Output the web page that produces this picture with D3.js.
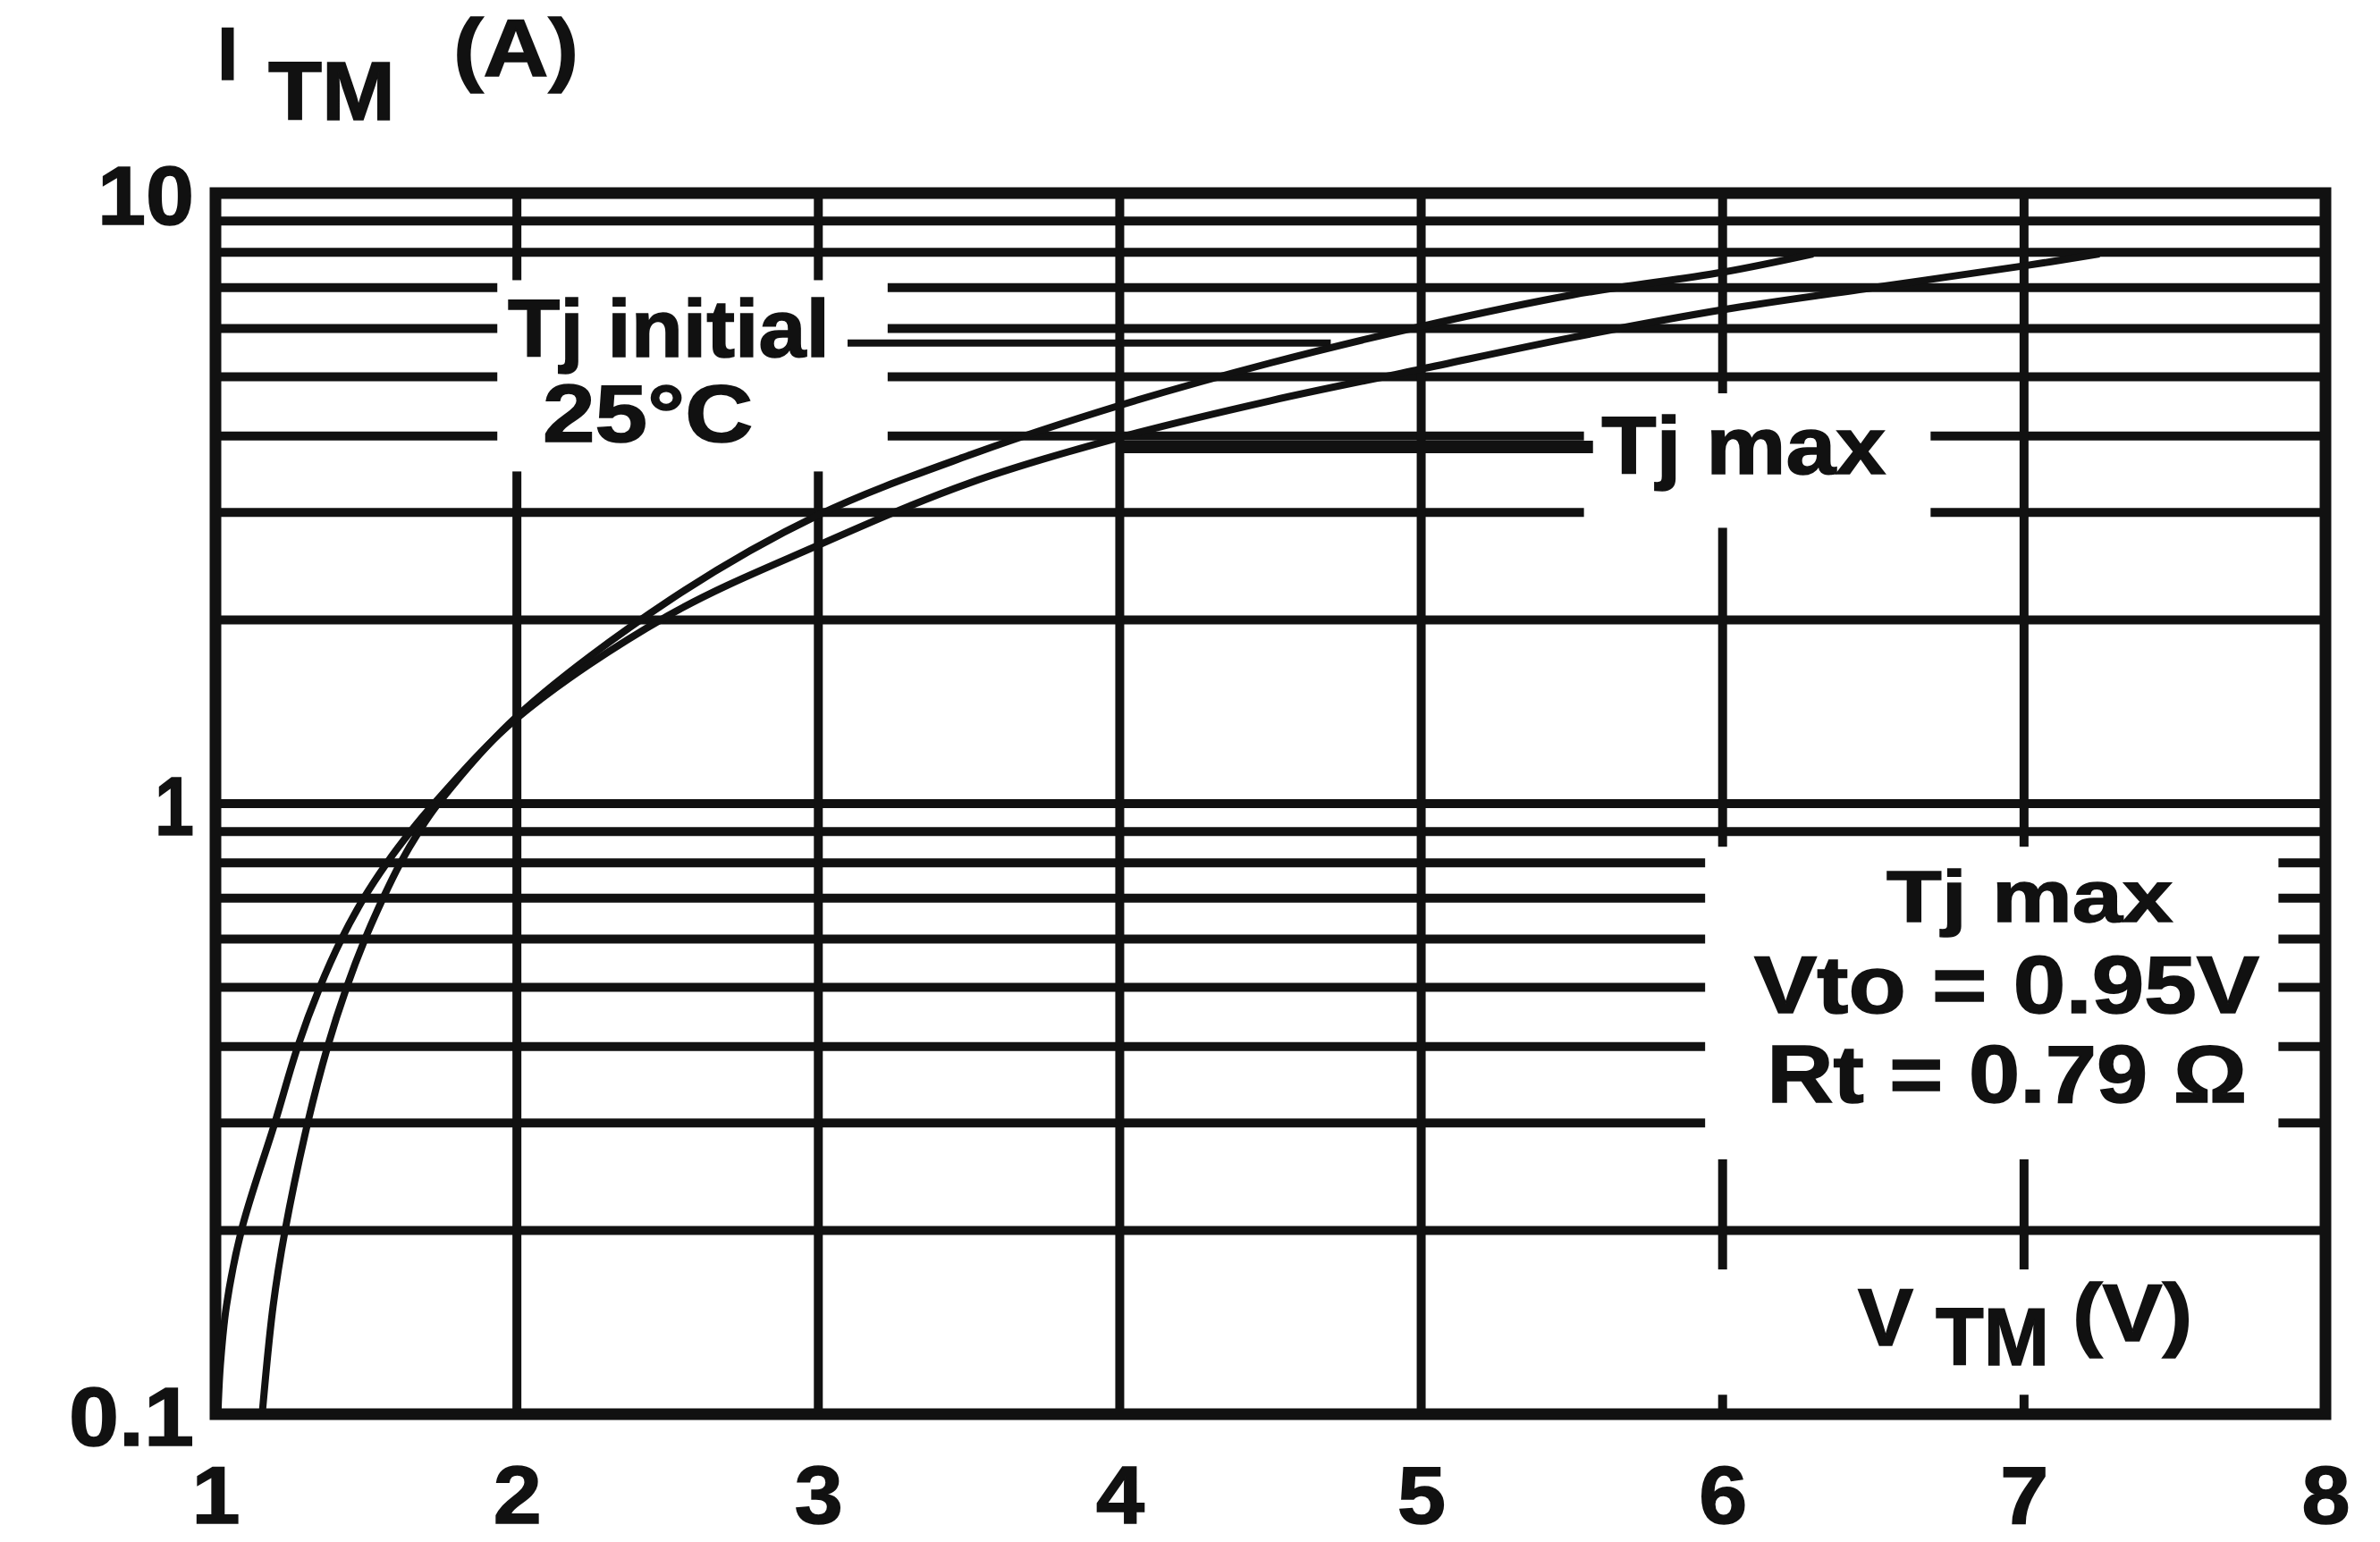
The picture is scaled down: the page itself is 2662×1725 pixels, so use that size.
<!DOCTYPE html>
<html>
<head>
<meta charset="utf-8">
<script src="https://cdn.jsdelivr.net/npm/d3@7"></script>
<style>
  body { margin: 0; background: #fff; }
  svg { display: block; }
  text { font-family: "Liberation Sans", Arial, sans-serif; font-weight: bold; fill: #111; stroke: #111; stroke-width: 1.5; }
</style>
</head>
<body>
<svg width="2662" height="1725"></svg>
<script>
// axis ticks
var xTicks = [1, 2, 3, 4, 5, 6, 7, 8];
var yTicks = [0.1, 1, 10];
var yTickLabels = ["0.1", "1", "10"];
var yMinor = [0.2, 0.3, 0.4, 0.5, 0.6, 0.7, 0.8, 0.9, 1, 2, 3, 4, 5, 6, 7, 8, 9];

// Tj initial 25°C curve
var voltsInit = [1.155, 1.191, 1.231, 1.306, 1.372, 1.435, 1.496, 1.556, 1.614, 1.675, 1.739, 2.0, 2.51, 3.0, 3.5, 4.0, 4.5, 5.0, 5.5, 6.0, 6.3];
var ampsInit  = [0.1, 0.15, 0.2, 0.3, 0.4, 0.5, 0.6, 0.7, 0.8, 0.9, 1.0, 1.39, 2.16, 2.97, 3.72, 4.49, 5.27, 6.05, 6.81, 7.42, 7.95];

// Tj max curve
var voltsMax = [1.008, 1.016, 1.036, 1.086, 1.197, 1.273, 1.346, 1.418, 1.492, 1.569, 1.647, 1.725, 2.0, 2.5, 3.0, 3.5, 4.0, 4.5, 5.0, 5.5, 6.0, 6.5, 7.0, 7.25];
var ampsMax  = [0.1, 0.12, 0.15, 0.2, 0.3, 0.4, 0.5, 0.6, 0.7, 0.8, 0.9, 1.0, 1.38, 2.03, 2.65, 3.35, 3.98, 4.57, 5.15, 5.8, 6.44, 7.0, 7.6, 7.95];

var width = 2662, height = 1725;
var margin = {left: 241, right: 61, top: 216, bottom: 143};

var svg = d3.select("svg");
svg.append("rect").attr("width", width).attr("height", height).attr("fill", "#fff");

var x = d3.scaleLinear().domain([1, 8]).range([margin.left, width - margin.right]);
var y = d3.scaleLog().domain([0.1, 10]).range([height - margin.bottom, margin.top]);

var ink = "#111";

// grid
svg.append("g").selectAll("line").data(yMinor).enter().append("line")
  .attr("x1", x(1)).attr("x2", x(8))
  .attr("y1", function(d){ return y(d); }).attr("y2", function(d){ return y(d); })
  .attr("stroke", ink).attr("stroke-width", 10);

svg.append("g").selectAll("line").data(xTicks.slice(1, -1)).enter().append("line")
  .attr("x1", function(d){ return x(d); }).attr("x2", function(d){ return x(d); })
  .attr("y1", y(10)).attr("y2", y(0.1))
  .attr("stroke", ink).attr("stroke-width", 10);

// white gaps behind labels (volts, amps)
var gaps = [
  [1.935, 3.23, 3.5, 7.2],
  [5.54, 6.69, 2.83, 4.70],
  [5.942, 7.844, 0.2615, 0.85],
  [5.40, 7.61, 0.1076, 0.1726]
];
svg.append("g").selectAll("rect").data(gaps).enter().append("rect")
  .attr("x", function(d){ return x(d[0]); })
  .attr("width", function(d){ return x(d[1]) - x(d[0]); })
  .attr("y", function(d){ return y(d[3]); })
  .attr("height", function(d){ return y(d[2]) - y(d[3]); })
  .attr("fill", "#fff");

// leader lines
svg.append("line")
  .attr("x1", x(3.097)).attr("x2", x(4.7))
  .attr("y1", y(5.68)).attr("y2", y(5.68))
  .attr("stroke", ink).attr("stroke-width", 8);
svg.append("line")
  .attr("x1", x(4.0)).attr("x2", x(5.57))
  .attr("y1", y(3.84)).attr("y2", y(3.84))
  .attr("stroke", ink).attr("stroke-width", 14);

// curves
var line = d3.line()
  .x(function(d){ return x(d[0]); })
  .y(function(d){ return y(d[1]); })
  .curve(d3.curveCatmullRom.alpha(0.5));

[[voltsInit, ampsInit], [voltsMax, ampsMax]].forEach(function(s){
  svg.append("path")
    .datum(d3.zip(s[0], s[1]))
    .attr("d", line)
    .attr("fill", "none")
    .attr("stroke", ink)
    .attr("stroke-width", 8)
    .attr("stroke-linejoin", "round");
});

// frame
svg.append("rect")
  .attr("x", x(1)).attr("y", y(10))
  .attr("width", x(8) - x(1)).attr("height", y(0.1) - y(10))
  .attr("fill", "none").attr("stroke", ink).attr("stroke-width", 13);

// axes
var xAxis = svg.append("g")
  .attr("transform", "translate(0," + y(0.1) + ")")
  .call(d3.axisBottom(x).tickValues(xTicks).tickFormat(d3.format("d")).tickSize(0).tickPadding(58));
xAxis.select(".domain").remove();
xAxis.selectAll("text").attr("font-size", 90)
  .attr("textLength", 54).attr("lengthAdjust", "spacingAndGlyphs");

var yLabelWidth = {"0.1": 140, "1": 44, "10": 108};
var yAxis = svg.append("g")
  .attr("transform", "translate(" + x(1) + ",0)")
  .call(d3.axisLeft(y).tickValues(yTicks).tickFormat(function(d, i){ return yTickLabels[i]; }).tickSize(0).tickPadding(24));
yAxis.select(".domain").remove();
yAxis.selectAll("text").attr("font-size", 92).attr("dy", "0.37em")
  .attr("textLength", function(d, i){ return yLabelWidth[yTickLabels[i]]; })
  .attr("lengthAdjust", "spacingAndGlyphs");
svg.selectAll(".tick text").attr("font-family", null)
  .style("font-family", "'Liberation Sans', Arial, sans-serif").style("font-weight", "bold")
  .style("fill", ink).style("stroke", ink).style("stroke-width", 1.5);

// annotations: [text, volts, amps, font size, text length]
var notes = [
  ["Tj initial", 1.970, 5.40, 90, 360],
  ["25°C", 2.086, 3.92, 90, 235],
  ["Tj max", 5.598, 3.47, 90, 318],
  ["Tj max", 6.544, 0.641, 82, 320],
  ["Vto = 0.95V", 6.105, 0.4545, 90, 565],
  ["Rt = 0.79 Ω", 6.147, 0.3243, 90, 537],
  ["V", 6.449, 0.1297, 90, 62],
  ["TM", 6.707, 0.1203, 90, 127],
  ["(V)", 7.161, 0.1318, 90, 134]
];
svg.append("g").selectAll("text").data(notes).enter().append("text")
  .attr("x", function(d){ return x(d[1]); })
  .attr("y", function(d){ return y(d[2]); })
  .attr("font-size", function(d){ return d[3]; })
  .attr("textLength", function(d){ return d[4]; })
  .attr("lengthAdjust", "spacingAndGlyphs")
  .text(function(d){ return d[0]; });

// y axis title
var title = svg.append("g");
title.append("text").attr("x", 243).attr("y", 89).attr("font-size", 84).text("I");
title.append("text").attr("x", 300).attr("y", 134).attr("font-size", 92)
  .attr("textLength", 142).attr("lengthAdjust", "spacingAndGlyphs").text("TM");
title.append("text").attr("x", 507).attr("y", 85).attr("font-size", 91)
  .attr("textLength", 140).attr("lengthAdjust", "spacingAndGlyphs").text("(A)");
</script>
</body>
</html>
